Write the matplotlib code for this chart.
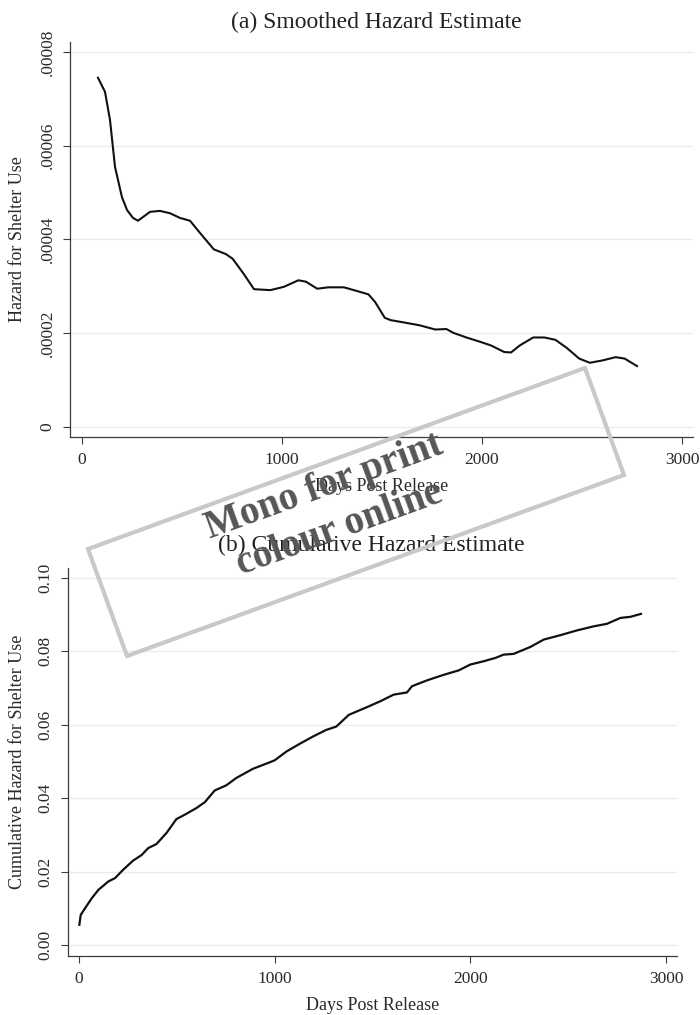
import matplotlib
matplotlib.use("Agg")
import matplotlib.pyplot as plt
from matplotlib.patches import Polygon

plt.rcParams['font.family'] = ['Liberation Serif', 'DejaVu Serif']

# smoothed hazard (days post release, hazard)
haz_days = [80, 115, 140, 165, 200, 225, 255, 280, 340, 390, 440, 490, 540, 590,
            659, 719, 753, 808, 860, 942, 1009, 1082, 1120, 1176, 1232, 1310,
            1376, 1432, 1465, 1514, 1543, 1610, 1688, 1766, 1822, 1856, 1922,
            1989, 2045, 2111, 2145, 2189, 2256, 2312, 2367, 2423, 2486, 2539,
            2602, 2668, 2713, 2775]
haz_vals = [7.45e-5, 7.15e-5, 6.55e-5, 5.55e-5, 4.9e-5, 4.63e-5, 4.46e-5, 4.4e-5,
            4.59e-5, 4.61e-5, 4.56e-5, 4.46e-5, 4.4e-5, 4.14e-5,
            3.79e-5, 3.69e-5, 3.59e-5, 3.27e-5, 2.94e-5, 2.92e-5, 2.99e-5,
            3.13e-5, 3.1e-5, 2.95e-5, 2.98e-5, 2.98e-5, 2.9e-5, 2.83e-5,
            2.67e-5, 2.33e-5, 2.28e-5, 2.23e-5, 2.17e-5, 2.08e-5, 2.09e-5,
            2.01e-5, 1.91e-5, 1.82e-5, 1.74e-5, 1.6e-5, 1.59e-5, 1.74e-5,
            1.91e-5, 1.91e-5, 1.86e-5, 1.69e-5, 1.46e-5, 1.37e-5, 1.42e-5,
            1.49e-5, 1.46e-5, 1.3e-5]

# cumulative hazard
cum_days = [2, 9, 31, 65, 99, 150, 184, 226, 277, 320, 354, 396, 447, 498, 541,
            600, 643, 694, 753, 804, 889, 957, 1000, 1060, 1128, 1196, 1264,
            1315, 1379, 1472, 1540, 1608, 1676, 1702, 1779, 1864, 1940, 2000,
            2068, 2128, 2170, 2221, 2307, 2375, 2460, 2545, 2630, 2698, 2767,
            2818, 2872]
cum_vals = [0.0055, 0.0082, 0.0100, 0.0127, 0.0150, 0.0173, 0.0182, 0.0205,
            0.0230, 0.0245, 0.0264, 0.0275, 0.0305, 0.0343, 0.0355, 0.0373,
            0.0389, 0.0421, 0.0435, 0.0455, 0.0480, 0.0494, 0.0503, 0.0527,
            0.0548, 0.0568, 0.0586, 0.0595, 0.0627, 0.0648, 0.0664, 0.0682,
            0.0688, 0.0705, 0.0721, 0.0736, 0.0748, 0.0764, 0.0773, 0.0782,
            0.0791, 0.0793, 0.0812, 0.0832, 0.0844, 0.0857, 0.0868, 0.0875,
            0.0891, 0.0894, 0.0902]

x_ticks = [0, 1000, 2000, 3000]
haz_ticks = [0, 0.00002, 0.00004, 0.00006, 0.00008]
haz_labels = ['0', '.00002', '.00004', '.00006', '.00008']
cum_ticks = [0.0, 0.02, 0.04, 0.06, 0.08, 0.10]
cum_labels = ['0.00', '0.02', '0.04', '0.06', '0.08', '0.10']

W, H = 700, 1015
fig = plt.figure(figsize=(W / 100, H / 100), dpi=100)


def px_rect(left, top, right, bottom):
    return [left / W, 1 - bottom / H, (right - left) / W, (bottom - top) / H]


def style_axes(ax):
    for side in ['top', 'right']:
        ax.spines[side].set_visible(False)
    for side in ['left', 'bottom']:
        ax.spines[side].set_color('#3c3c3c')
        ax.spines[side].set_linewidth(0.9)
    ax.grid(axis='y', color='#e3eef0', linewidth=1.0)
    ax.set_axisbelow(True)
    ax.tick_params(direction='out', length=5, width=0.8, color='#3c3c3c',
                   labelsize=12.5, labelcolor='#2a2a2a', pad=5.5)
    ax.tick_params(axis='y', labelrotation=90)
    for lab in ax.get_yticklabels():
        lab.set_va('center')


# panel (a)
ax1 = fig.add_axes(px_rect(70, 42, 693, 437))
ax1.plot(haz_days, haz_vals, color='#111111', linewidth=1.5)
ax1.set_xlim(-60, 3055)
ax1.set_ylim(-2.13e-6, 8.213e-5)
ax1.set_xticks(x_ticks)
ax1.set_yticks(haz_ticks, haz_labels)
style_axes(ax1)
ax1.set_xlabel('Days Post Release', fontsize=13, color='#2a2a2a')
ax1.set_ylabel('Hazard for Shelter Use', fontsize=13, color='#2a2a2a')
ax1.xaxis.set_label_coords(0.5, -(487 - 437) / 395)
ax1.xaxis.label.set_va('center')
ax1.yaxis.set_label_coords((18 - 70) / 623, 0.5)
ax1.yaxis.label.set_va('center')

# panel (b)
ax2 = fig.add_axes(px_rect(68, 568, 677, 956))
ax2.plot(cum_days, cum_vals, color='#111111', linewidth=1.6)
ax2.set_xlim(-56, 3056)
ax2.set_ylim(-0.0030, 0.1027)
ax2.set_xticks(x_ticks)
ax2.set_yticks(cum_ticks, cum_labels)
style_axes(ax2)
ax2.set_xlabel('Days Post Release', fontsize=13, color='#2a2a2a')
ax2.set_ylabel('Cumulative Hazard for Shelter Use', fontsize=13, color='#2a2a2a')
ax2.xaxis.set_label_coords(0.5, -(1005 - 956) / 388)
ax2.xaxis.label.set_va('center')
ax2.yaxis.set_label_coords((18 - 68) / 609, 0.5)
ax2.yaxis.label.set_va('center')

fig.text(376 / W, 1 - 22 / H, '(a) Smoothed Hazard Estimate', fontsize=17,
         color='#222222', ha='center', va='center')
fig.text(371 / W, 1 - 545 / H, '(b) Cumulative Hazard Estimate', fontsize=17,
         color='#222222', ha='center', va='center')

# print/online stamp across the two panels
corners = [(88, 549), (585, 368), (624, 475), (127, 656)]
stamp = Polygon([(x / W, 1 - y / H) for x, y in corners], closed=True,
                fill=False, edgecolor='#c9c9c9', linewidth=3,
                transform=fig.transFigure, zorder=10)
fig.add_artist(stamp)
fig.text(332 / W, 1 - 508 / H, 'Mono for print\ncolour online', fontsize=28,
         fontweight='bold', color='#565656', ha='center', va='center',
         multialignment='center', rotation=20, rotation_mode='anchor',
         linespacing=1.25, zorder=11)

fig.savefig('out.png', dpi=100)
